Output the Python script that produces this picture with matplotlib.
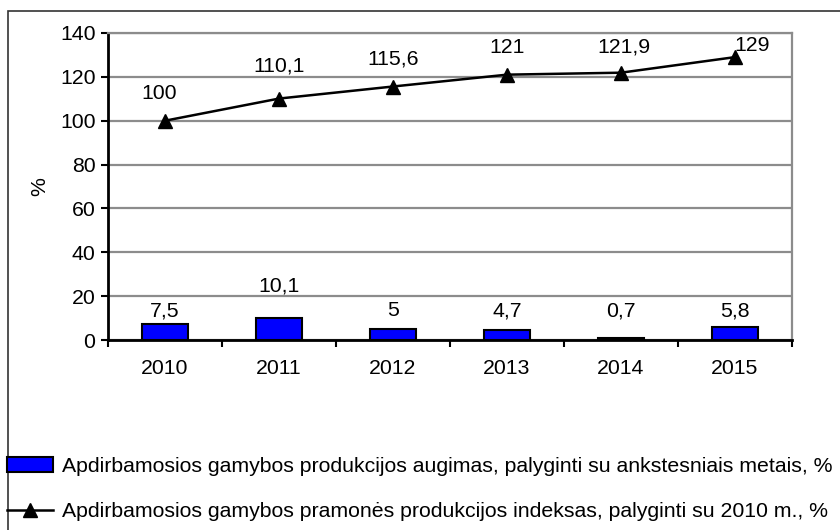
import matplotlib.pyplot as plt
from matplotlib.patches import Rectangle
from matplotlib.lines import Line2D

plt.rcParams['font.family'] = ['Liberation Sans', 'DejaVu Sans']

years = ['2010', '2011', '2012', '2013', '2014', '2015']
growth = [7.5, 10.1, 5, 4.7, 0.7, 5.8]
index_2010 = [100, 110.1, 115.6, 121, 121.9, 129]
growth_labels = ['7,5', '10,1', '5', '4,7', '0,7', '5,8']
index_labels = ['100', '110,1', '115,6', '121', '121,9', '129']
label_bar = 'Apdirbamosios gamybos produkcijos augimas, palyginti su ankstesniais metais, %'
label_line = 'Apdirbamosios gamybos pramonės produkcijos indeksas, palyginti su 2010 m., %'

FS = 15.3

fig = plt.figure(figsize=(8.4, 5.3), dpi=100)
ax = fig.add_axes([108 / 840, 1 - 340 / 530, 684 / 840, 307 / 530])

x = list(range(len(years)))
ax.bar(x, growth, width=0.41, color='#0000ff', edgecolor='black', linewidth=1.5, zorder=3)
ax.plot(x, index_2010, color='black', lw=1.8, marker='^', markersize=10.5, zorder=4)

# value labels (positions picked to match the original layout)
for i, v in enumerate(growth):
    ax.text(i, 13.3 if i != 1 else 24.6, growth_labels[i], ha='center', va='center', fontsize=FS)
line_dx = [-0.05, 0.0, 0.0, 0.0, 0.03, 0.15]
line_y = [112.6, 125, 128, 133.6, 133.6, 134.5]
for i, v in enumerate(index_2010):
    ax.text(i + line_dx[i], line_y[i], index_labels[i], ha='center', va='center', fontsize=FS)

ax.set_xlim(-0.5, 5.5)
ax.set_ylim(0, 140)
ax.set_yticks(range(0, 141, 20))
ax.yaxis.grid(True, color='#8c8c8c', lw=1.6, zorder=0)
ax.set_axisbelow(True)

ax.set_xticks([i - 0.5 for i in range(7)])
ax.set_xticklabels([])
ax.set_xticks(x, minor=True)
ax.set_xticklabels(years, minor=True, fontsize=FS)
ax.tick_params(axis='x', which='minor', length=0, pad=14)
ax.tick_params(axis='x', which='major', length=5, width=1.5, direction='out')
ax.tick_params(axis='y', length=5, width=1.5, labelsize=FS, pad=4)

ax.spines['left'].set_linewidth(2)
ax.spines['bottom'].set_linewidth(2)
ax.spines['top'].set_color('#8c8c8c')
ax.spines['right'].set_color('#8c8c8c')
ax.spines['top'].set_linewidth(1.6)
ax.spines['right'].set_linewidth(1.6)
ax.set_ylabel('%', fontsize=FS, labelpad=8)

# outer frame
fig.patches.append(Rectangle((8 / 840, -0.1), 1.0, 1 - 11 / 530 + 0.1, transform=fig.transFigure,
                             fill=False, edgecolor='#333333', lw=1.2))

handles = [Rectangle((0, 0), 1, 1, facecolor='#0000ff', edgecolor='black', lw=1.5),
           Line2D([0], [0], color='black', lw=1.8, marker='^', markersize=10.5)]
fig.legend(handles, [label_bar, label_line], loc='center left',
           bbox_to_anchor=(7 / 840, 1 - 489 / 530), frameon=False, fontsize=FS,
           handlelength=2.15, handleheight=0.7, handletextpad=0.45, labelspacing=1.25,
           borderpad=0, borderaxespad=0)

fig.savefig('out.png', dpi=100)
